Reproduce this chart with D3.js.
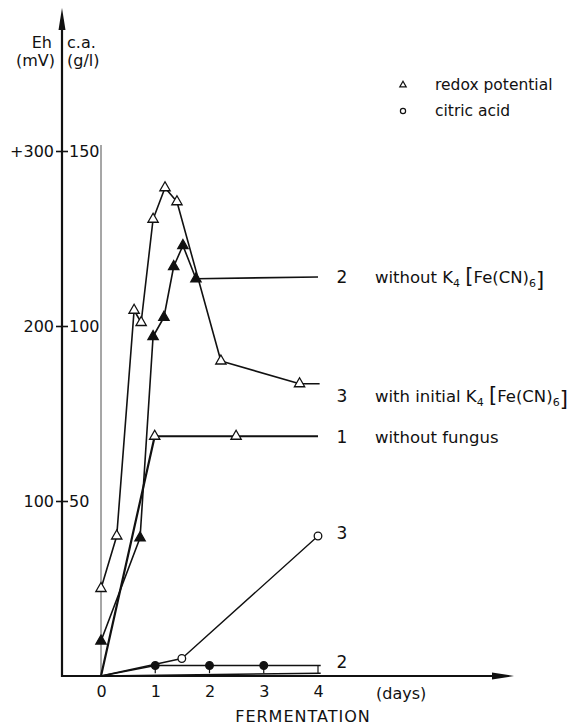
<!DOCTYPE html>
<html>
<head>
<meta charset="utf-8">
<script src="https://cdn.jsdelivr.net/npm/d3@7"></script>
<style>
  body { margin: 0; background: #fff; }
  text { font-family: "DejaVu Sans", sans-serif; fill: #111; }
</style>
</head>
<body>
<script>
// [day, value, measured?]  measured = 1 gets a marker
var ehNoFungus = [[0, 0, 0], [0.99, 137, 1], [2.49, 137, 1], [4, 137, 0]];
var ehWithoutK4 = [[0, 20, 1], [0.72, 79, 1], [0.96, 194, 1], [1.16, 205, 1], [1.34, 234, 1],
                   [1.51, 246, 1], [1.75, 227, 1], [4, 228, 0]];
var ehWithK4 = [[0, 50, 1], [0.29, 80, 1], [0.61, 209, 1], [0.74, 202, 1], [0.96, 261, 1],
                [1.18, 279, 1], [1.40, 271, 1], [2.21, 180, 1], [3.66, 167, 1], [4.03, 167, 0]];

var caNoFungus = [[0, 0, 0], [4.05, 0.8, 0]];
var caWithoutK4 = [[0, 0, 0], [1, 3, 1], [2, 3, 1], [3, 3, 1], [4.05, 3, 0]];
var caWithK4 = [[0, 0, 0], [1.49, 5, 1], [4, 40, 1]];

var dayTicks = [0, 1, 2, 3, 4];
var ehTicks = [100, 200, 300];
var caTicks = [50, 100, 150];

window.onload = function () {
    const svg = d3.select("body").append("svg")
        .attr("width", 586)
        .attr("height", 727);

    const axisX = 62, axisY = 676;

    const x = d3.scaleLinear().domain([0, 4]).range([101, 318]);
    const yEh = d3.scaleLinear().domain([0, 300]).range([axisY, 151]);
    const yCa = d3.scaleLinear().domain([0, 150]).range([axisY, 151]);

    // thin vertical line at day 0
    svg.append("line")
        .attr("x1", x(0)).attr("x2", x(0))
        .attr("y1", 145).attr("y2", axisY)
        .attr("stroke", "#222").attr("stroke-width", 0.8);

    // main axes with arrows
    svg.append("line")
        .attr("x1", axisX).attr("x2", axisX)
        .attr("y1", 22).attr("y2", axisY + 1)
        .attr("stroke", "#111").attr("stroke-width", 2.2);
    svg.append("path")
        .attr("d", "M" + axisX + ",8L" + (axisX - 3.5) + ",30L" + (axisX + 3.5) + ",30Z")
        .attr("fill", "#111");
    svg.append("line")
        .attr("x1", axisX - 1).attr("x2", 500)
        .attr("y1", axisY).attr("y2", axisY)
        .attr("stroke", "#111").attr("stroke-width", 2.2);
    svg.append("path")
        .attr("d", "M514," + axisY + "L492," + (axisY - 3.5) + "L492," + (axisY + 3.5) + "Z")
        .attr("fill", "#111");

    // left (Eh) and right (c.a.) tick labels share the same axis line
    const leftAxis = svg.append("g")
        .attr("transform", "translate(" + axisX + ",0)")
        .call(d3.axisLeft(yEh).tickValues(ehTicks).tickSize(6).tickPadding(2)
            .tickFormat(d => d === 300 ? "+300" : d));
    const rightAxis = svg.append("g")
        .attr("transform", "translate(" + axisX + ",0)")
        .call(d3.axisRight(yCa).tickValues(caTicks).tickSize(6).tickPadding(1));
    [leftAxis, rightAxis].forEach(function (g) {
        g.select(".domain").remove();
        g.selectAll(".tick line").attr("stroke", "#111").attr("stroke-width", 1.6);
        g.selectAll(".tick text")
            .attr("font-family", "DejaVu Sans, sans-serif")
            .attr("font-size", 16).attr("fill", "#111");
    });

    const bottomAxis = svg.append("g")
        .attr("transform", "translate(0," + axisY + ")")
        .call(d3.axisBottom(x).tickValues(dayTicks).tickSize(0).tickPadding(10)
            .tickFormat(d3.format("d")));
    bottomAxis.select(".domain").remove();
    bottomAxis.selectAll(".tick text")
        .attr("font-family", "DejaVu Sans, sans-serif")
        .attr("font-size", 16).attr("fill", "#111");

    // axis headings
    svg.append("text").attr("x", 52).attr("y", 48).attr("text-anchor", "end")
        .attr("font-size", 16).text("Eh");
    svg.append("text").attr("x", 55).attr("y", 66).attr("text-anchor", "end")
        .attr("font-size", 16).text("(mV)");
    svg.append("text").attr("x", 67).attr("y", 48)
        .attr("font-size", 16).text("c.a.");
    svg.append("text").attr("x", 67).attr("y", 66)
        .attr("font-size", 16).text("(g/l)");

    svg.append("text").attr("x", 376).attr("y", 699)
        .attr("font-size", 16).text("(days)");
    svg.append("text").attr("x", 303).attr("y", 722).attr("text-anchor", "middle")
        .attr("font-size", 16).attr("letter-spacing", 1).text("FERMENTATION");

    // curves
    const lineEh = d3.line().x(d => x(d[0])).y(d => yEh(d[1]));
    const lineCa = d3.line().x(d => x(d[0])).y(d => yCa(d[1]));

    function drawLine(data, fn, w) {
        svg.append("path")
            .attr("d", fn(data))
            .attr("fill", "none")
            .attr("stroke", "#111")
            .attr("stroke-width", w)
            .attr("stroke-linejoin", "round");
    }
    drawLine(ehNoFungus, lineEh, 2.2);
    drawLine(ehWithoutK4, lineEh, 1.6);
    drawLine(ehWithK4, lineEh, 1.6);
    drawLine(caNoFungus, lineCa, 1.4);
    drawLine(caWithoutK4, lineCa, 1.4);
    drawLine(caWithK4, lineCa, 1.4);

    // stems under the filled citric acid dots
    svg.selectAll(".stem")
        .data(caWithoutK4.filter(d => d[1] > 0))
        .enter().append("line")
        .attr("class", "stem")
        .attr("x1", d => x(Math.min(d[0], 4))).attr("x2", d => x(Math.min(d[0], 4)))
        .attr("y1", d => yCa(d[1])).attr("y2", yCa(caNoFungus[1][1]))
        .attr("stroke", "#111").attr("stroke-width", 1.2);

    const tri = d3.symbol(d3.symbolTriangle).size(46);

    function drawTriangles(data, fn, fill) {
        svg.append("g").selectAll("path")
            .data(data.filter(d => d[2]))
            .enter().append("path")
            .attr("d", tri)
            .attr("transform", d => "translate(" + x(d[0]) + "," + fn(d[1]) + ")")
            .attr("fill", fill)
            .attr("stroke", "#111")
            .attr("stroke-width", 1.3);
    }
    drawTriangles(ehNoFungus, yEh, "#fff");
    drawTriangles(ehWithK4, yEh, "#fff");
    drawTriangles(ehWithoutK4, yEh, "#111");

    function drawCircles(data, fill) {
        svg.append("g").selectAll("circle")
            .data(data.filter(d => d[2]))
            .enter().append("circle")
            .attr("cx", d => x(d[0]))
            .attr("cy", d => yCa(d[1]))
            .attr("r", 3.8)
            .attr("fill", fill)
            .attr("stroke", "#111")
            .attr("stroke-width", 1.3);
    }
    drawCircles(caWithK4, "#fff");
    drawCircles(caWithoutK4, "#111");

    // legend
    svg.append("path").attr("d", d3.symbol(d3.symbolTriangle).size(18))
        .attr("transform", "translate(403,85)")
        .attr("fill", "#fff").attr("stroke", "#111").attr("stroke-width", 1.2);
    svg.append("circle").attr("cx", 403).attr("cy", 111).attr("r", 2.6)
        .attr("fill", "#fff").attr("stroke", "#111").attr("stroke-width", 1.2);
    svg.append("text").attr("x", 435).attr("y", 90).attr("font-size", 15.5).text("redox potential");
    svg.append("text").attr("x", 435).attr("y", 116).attr("font-size", 15.5).text("citric acid");

    // curve labels
    function curveLabel(num, y, parts) {
        svg.append("text").attr("x", 342).attr("y", y).attr("text-anchor", "middle")
            .attr("font-size", 17).text(num);
        if (!parts) return;
        const t = svg.append("text").attr("x", 375).attr("y", y).attr("font-size", 16.5);
        parts.forEach(function (p) {
            const s = t.append("tspan").text(p[0]);
            if (p[1] === "sub") s.attr("font-size", 11).attr("dy", 4);
            if (p[1] === "up") s.attr("dy", -4);
            if (p[1] === "big") s.attr("font-size", 21);
        });
    }
    curveLabel("2", 283, [["without K"], ["4", "sub"], [" ", "up"], ["[", "big"], ["Fe(CN)"], ["6", "sub"], ["]", "big"]]);
    curveLabel("3", 402, [["with initial K"], ["4", "sub"], [" ", "up"], ["[", "big"], ["Fe(CN)"], ["6", "sub"], ["]", "big"]]);
    curveLabel("1", 443, [["without fungus"]]);
    curveLabel("3", 539, null);
    curveLabel("2", 668, null);
};
</script>
</body>
</html>
